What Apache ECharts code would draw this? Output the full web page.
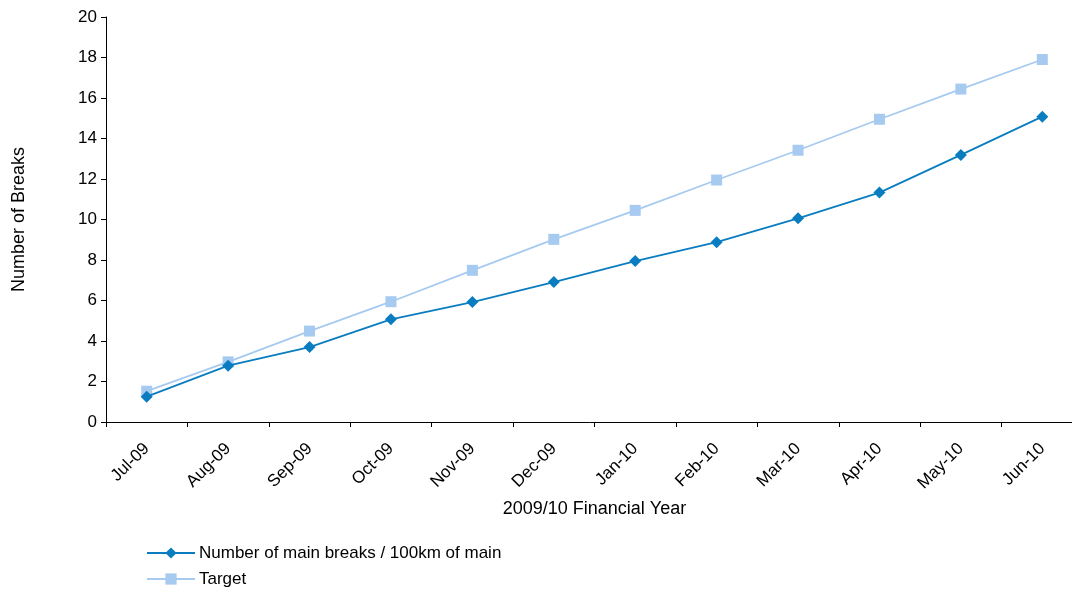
<!DOCTYPE html>
<html>
<head>
<meta charset="utf-8">
<script src="https://cdn.jsdelivr.net/npm/echarts@6/dist/echarts.min.js"></script>
<style>
  html, body { margin: 0; padding: 0; background: #fff; }
  #chart { width: 1072px; height: 589px; }
</style>
</head>
<body>
<div id="chart"></div>
<script>
// Monthly cumulative main breaks per 100km of main vs target, 2009/10
const months = ['Jul-09', 'Aug-09', 'Sep-09', 'Oct-09', 'Nov-09', 'Dec-09',
                'Jan-10', 'Feb-10', 'Mar-10', 'Apr-10', 'May-10', 'Jun-10'];
const mainBreaks = [1.25, 2.78, 3.7, 5.07, 5.92, 6.91, 7.95, 8.88, 10.06, 11.33, 13.19, 15.08];
const target = [1.52, 2.97, 4.49, 5.94, 7.49, 9.02, 10.45, 11.95, 13.42, 14.95, 16.44, 17.9];
const yTicks = { min: 0, max: 20, step: 2 };

const FONT = '"Liberation Sans", Arial, sans-serif';
const MAIN_COLOR = '#0a7dc1';
const TARGET_COLOR = '#a7caf0';

const chart = echarts.init(document.getElementById('chart'), null, { renderer: 'canvas' });
chart.setOption({
  animation: false,
  backgroundColor: '#ffffff',
  textStyle: { fontFamily: FONT, color: '#000' },
  // the plot runs slightly past the right edge of the canvas
  grid: { left: 106, width: 977, top: 17, bottom: 167, containLabel: false, outerBoundsMode: 'none' },
  xAxis: {
    type: 'category',
    data: months,
    boundaryGap: true,
    name: '2009/10 Financial Year',
    nameLocation: 'middle',
    nameGap: 78,
    nameTextStyle: { fontFamily: FONT, fontSize: 18, color: '#000' },
    axisLine: { lineStyle: { color: '#000', width: 1 } },
    axisTick: { show: true, interval: 0, length: 5, lineStyle: { color: '#000' } },
    axisLabel: { interval: 0, rotate: 45, fontFamily: FONT, fontSize: 17, color: '#000', margin: 24 },
    splitLine: { show: false }
  },
  yAxis: {
    type: 'value',
    min: yTicks.min,
    max: yTicks.max,
    interval: yTicks.step,
    name: 'Number of Breaks',
    nameLocation: 'middle',
    nameGap: 78,
    nameRotate: 90,
    nameTextStyle: { fontFamily: FONT, fontSize: 18, color: '#000' },
    axisLine: { show: true, lineStyle: { color: '#000', width: 1 } },
    axisTick: { show: true, length: 5, lineStyle: { color: '#000' } },
    axisLabel: { fontFamily: FONT, fontSize: 17, color: '#000', margin: 9 },
    splitLine: { show: false }
  },
  legend: {
    orient: 'vertical',
    left: 146,
    top: 544,
    padding: 0,
    itemWidth: 48,
    itemHeight: 14,
    itemGap: 8,
    textStyle: { fontFamily: FONT, fontSize: 17, lineHeight: 18, color: '#000', padding: [0, 0, 0, -1] },
    data: ['Number of main breaks / 100km of main', 'Target']
  },
  series: [
    {
      name: 'Number of main breaks / 100km of main',
      type: 'line',
      data: mainBreaks,
      symbol: 'diamond',
      symbolSize: 12,
      itemStyle: { color: MAIN_COLOR },
      lineStyle: { color: MAIN_COLOR, width: 1.8 },
      z: 3
    },
    {
      name: 'Target',
      type: 'line',
      data: target,
      symbol: 'rect',
      symbolSize: 11,
      itemStyle: { color: TARGET_COLOR },
      lineStyle: { color: TARGET_COLOR, width: 1.8 },
      z: 2
    }
  ]
});
</script>
</body>
</html>
